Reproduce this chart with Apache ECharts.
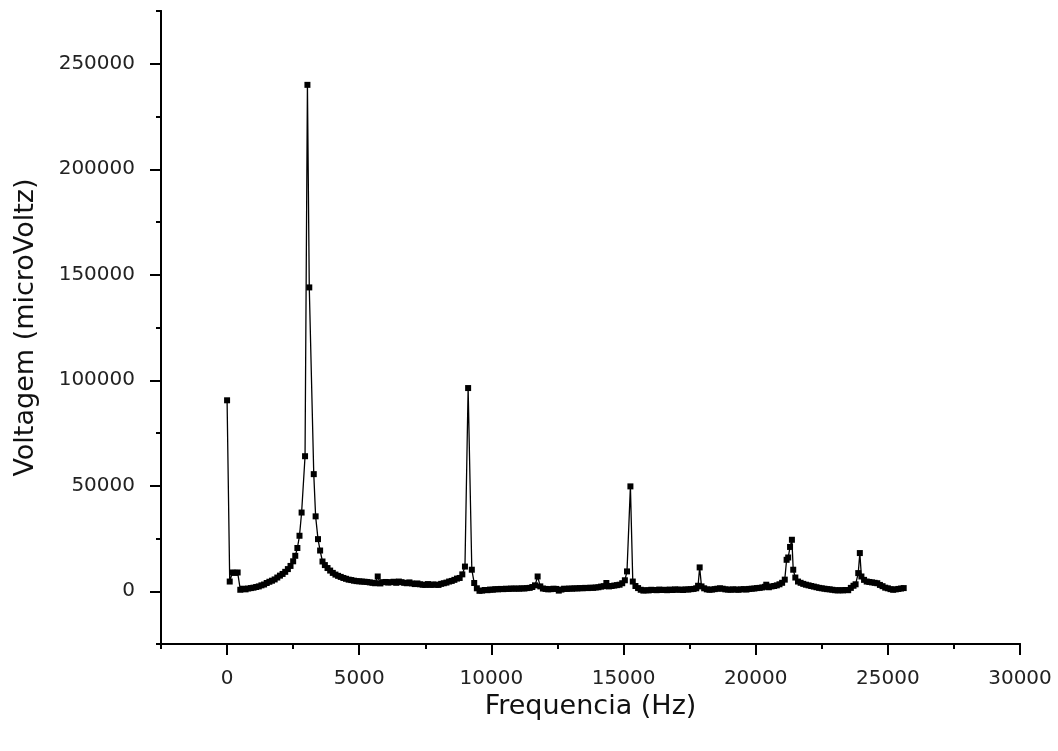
<!DOCTYPE html>
<html>
<head>
<meta charset="utf-8">
<script src="https://cdn.jsdelivr.net/npm/echarts@6/dist/echarts.min.js"></script>
<style>
html,body{margin:0;padding:0;background:#fff;}
#chart{width:1058px;height:751px;}
</style>
</head>
<body>
<div id="chart"></div>
<script>
// [frequencia Hz, voltagem microVolt]
var faixa0a5k = [
	[0,90500],[100,4600],[200,8900],[300,8700],[400,8900],[500,700],[600,1200],[700,900],[800,1300],[900,1500],
	[1000,1700],[1100,2000],[1200,2300],[1300,2800],[1400,3200],[1500,3900],[1600,4500],[1700,5000],[1800,5600],[1900,6500],
	[2000,7400],[2100,8200],[2200,9200],[2300,10500],[2400,12000],[2500,14200],[2580,16800],[2660,20500],[2740,26300],[2820,37300],
	[2950,64000],[3040,240000],[3110,144000],[3280,55500],[3350,35500],[3440,24700],[3520,19300],[3610,14100],[3700,12400],[3800,11000],
	[3900,9800],[4000,8700],[4100,7900],[4200,7300],[4300,6800],[4400,6300],[4500,5900],[4600,5500],[4700,5300],[4800,5000],[4900,4800]
]
var faixa5ka10k = [
	[5000,4700],[5100,4600],[5200,4500],[5300,4400],[5400,4200],[5500,4000],[5600,3800],[5700,7000],[5800,3700],[5900,4300],
	[6000,4400],[6100,4100],[6200,4300],[6300,4500],[6400,4000],[6500,4600],[6600,4300],[6700,4000],[6800,3800],[6900,4200],
	[7000,3700],[7100,3400],[7200,3700],[7300,3300],[7400,3100],[7500,3000],[7600,3400],[7700,3000],[7800,3200],[7900,3100],
	[8000,3000],[8100,3500],[8200,3800],[8300,4100],[8400,4600],[8500,4900],[8600,5400],[8700,6000],[8800,6300],[8900,8000],
	[9000,11700],[9120,96300],[9260,10200],[9350,3900],[9450,1400],[9550,200],[9650,300],[9750,600],[9850,500],[9950,800]
]
var faixa10ka15k = [
	[10050,700],[10150,1000],[10250,900],[10350,1100],[10450,1000],[10550,1200],[10650,1100],[10750,1300],[10850,1200],[10950,1300],
	[11050,1200],[11150,1400],[11250,1300],[11350,1500],[11450,1600],[11550,2000],[11650,2800],[11750,7000],[11850,2300],[11950,1300],
	[12050,1100],[12150,900],[12250,1000],[12350,1200],[12450,1100],[12550,300],[12650,800],[12750,1200],[12850,1100],[12950,1300],
	[13050,1200],[13150,1400],[13250,1300],[13350,1500],[13450,1400],[13550,1600],[13650,1500],[13750,1700],[13850,1600],[13950,1800],
	[14050,1900],[14150,2200],[14250,2400],[14350,3900],[14450,2300],[14550,2500],[14650,2700],[14750,2900],[14850,3100],[14950,3800]
]
var faixa15ka20k = [
	[15050,5200],[15130,9400],[15260,49700],[15350,4600],[15450,2500],[15550,1500],[15650,700],[15750,300],[15850,500],[15950,400],
	[16050,700],[16150,600],[16250,500],[16350,800],[16450,600],[16550,700],[16650,500],[16750,800],[16850,600],[16950,900],
	[17050,700],[17150,800],[17250,600],[17350,900],[17450,800],[17550,1000],[17650,1100],[17750,1400],[17820,2600],[17880,11300],
	[17950,2300],[18050,1400],[18150,900],[18250,700],[18350,800],[18450,1000],[18550,1200],[18650,1400],[18750,1200],[18850,900],
	[18950,800],[19050,700],[19150,900],[19250,800],[19350,700],[19450,900],[19550,1000],[19650,800],[19750,1100],[19850,1200],[19950,1300]
]
var faixa20ka26k = [
	[20050,1500],[20150,1600],[20250,1800],[20350,2100],[20400,3100],[20500,1900],[20600,2300],[20700,2500],[20800,2800],[20900,3300],
	[21000,4000],[21100,5500],[21170,14900],[21230,16000],[21300,21000],[21370,24400],[21420,10200],[21500,6500],[21600,4600],[21700,4000],
	[21800,3500],[21900,3100],[22000,2800],[22100,2500],[22200,2200],[22300,1900],[22400,1600],[22500,1400],[22600,1200],[22700,1000],
	[22800,900],[22900,700],[23000,500],[23100,400],[23200,500],[23300,400],[23400,600],[23500,500],[23600,1600],[23700,2600],
	[23780,3300],[23880,8600],[23940,18100],[24000,7000],[24100,5400],[24200,4600],[24300,4400],[24400,4200],[24500,4000],[24600,3800],
	[24700,3000],[24800,2400],[24900,1700],[25000,1400],[25100,1000],[25200,700],[25300,900],[25400,1100],[25500,1300],[25600,1500]
]
var xLabels = [0,5000,10000,15000,20000,25000,30000]
var yLabels = [0,50000,100000,150000,200000,250000]

var dados = faixa0a5k.concat(faixa5ka10k, faixa10ka15k, faixa15ka20k, faixa20ka26k)

var fonte = "DejaVu Sans"
var cor = "#000"

function semVirgula(v){
	return String(v)
}

var mychart = echarts.init(document.getElementById("chart"))
var option = {
	animation:false,
	backgroundColor:"#fff",
	grid:{
		left:161,
		right:38,
		top:11,
		bottom:107,
		containLabel:false,
		outerBoundsMode:"none"
	},
	xAxis:[{
		type:"value",
		min:-2500,
		max:30000,
		interval:2500,
		name:"Frequencia (Hz)",
		nameLocation:"middle",
		nameGap:49,
		nameTextStyle:{
			color:"#111",
			fontFamily:fonte,
			fontSize:27
		},
		axisLine:{
			onZero:false,
			lineStyle:{color:cor,width:2}
		},
		axisTick:{
			customValues:xLabels,
			length:11,
			lineStyle:{color:cor,width:2}
		},
		axisLabel:{
			customValues:xLabels,
			margin:25,
			color:"#222",
			fontFamily:fonte,
			fontSize:20,
			formatter:semVirgula
		},
		splitLine:{show:false}
	},{
		type:"value",
		position:"bottom",
		min:-2500,
		max:30000,
		interval:2500,
		axisLine:{
			onZero:false,
			lineStyle:{color:cor,width:2}
		},
		axisTick:{
			length:5,
			lineStyle:{color:cor,width:2}
		},
		axisLabel:{show:false},
		splitLine:{show:false}
	}],
	yAxis:[{
		type:"value",
		min:-25000,
		max:275000,
		interval:25000,
		name:"Voltagem (microVoltz)",
		nameLocation:"middle",
		nameGap:122,
		nameTextStyle:{
			color:"#111",
			fontFamily:fonte,
			fontSize:27
		},
		axisLine:{
			show:true,
			onZero:false,
			lineStyle:{color:cor,width:2}
		},
		axisTick:{
			show:true,
			customValues:yLabels,
			length:11,
			lineStyle:{color:cor,width:2}
		},
		axisLabel:{
			customValues:yLabels,
			margin:26,
			color:"#222",
			fontFamily:fonte,
			fontSize:20,
			formatter:semVirgula
		},
		splitLine:{show:false}
	},{
		type:"value",
		position:"left",
		min:-25000,
		max:275000,
		interval:25000,
		axisLine:{
			show:true,
			onZero:false,
			lineStyle:{color:cor,width:2}
		},
		axisTick:{
			show:true,
			length:5,
			lineStyle:{color:cor,width:2}
		},
		axisLabel:{show:false},
		splitLine:{show:false}
	}],
	series:[{
		type:"line",
		xAxisIndex:0,
		yAxisIndex:0,
		data:dados,
		symbol:"rect",
		symbolSize:6,
		showAllSymbol:true,
		itemStyle:{color:cor},
		lineStyle:{color:cor,width:1.3},
		z:3
	}]
}
mychart.setOption(option)
</script>
</body>
</html>
